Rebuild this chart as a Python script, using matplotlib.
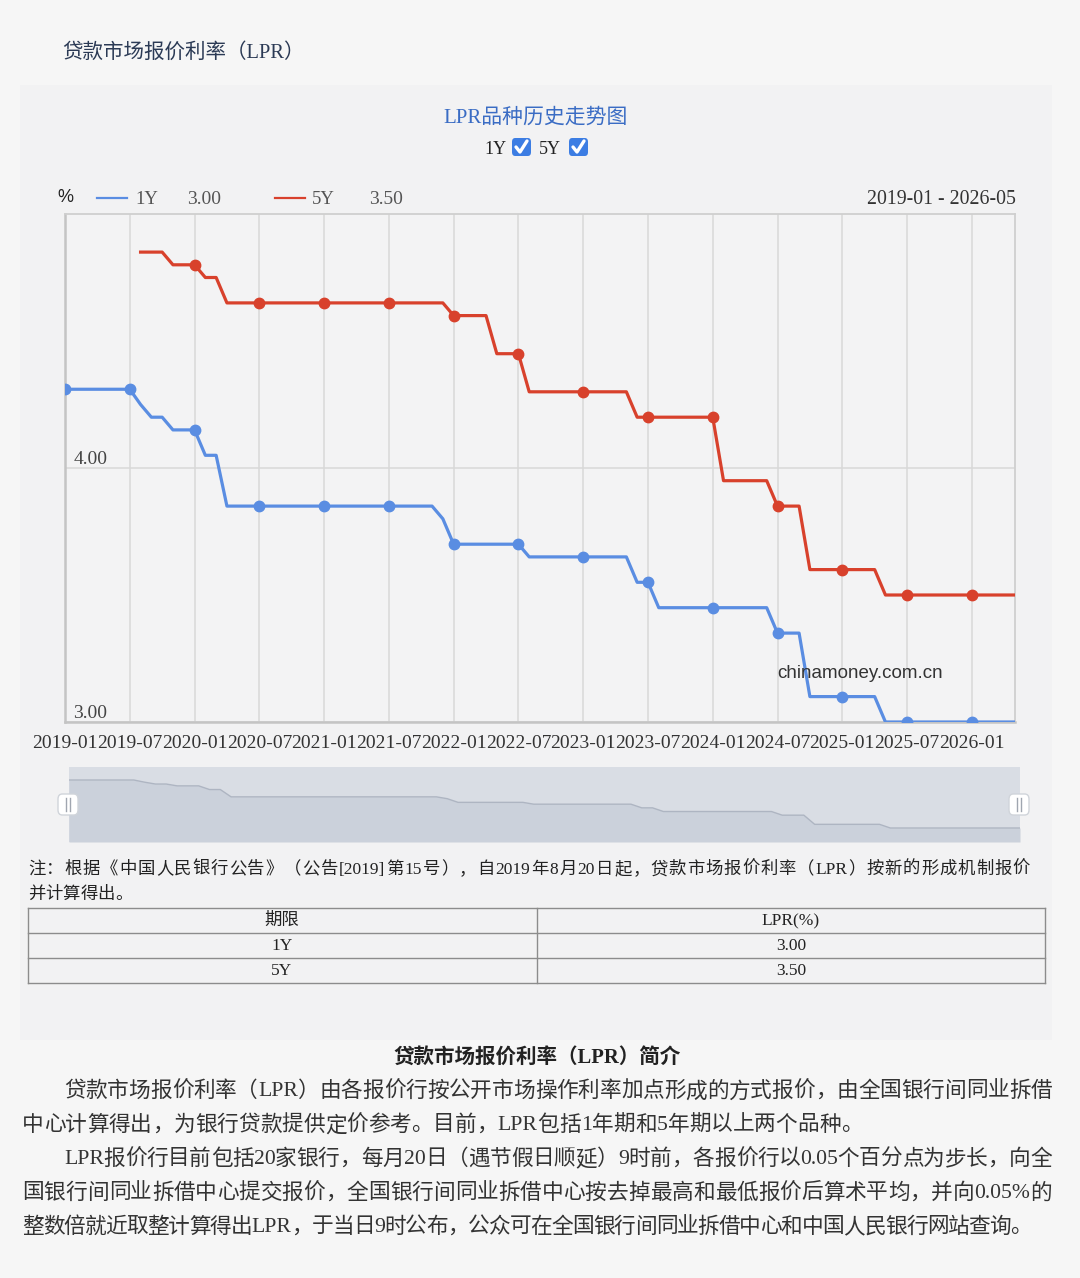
import re
import numpy as np
import matplotlib
matplotlib.use("Agg")
import matplotlib.pyplot as plt
from matplotlib.patches import Rectangle, FancyBboxPatch
from matplotlib.lines import Line2D

# ---------------- data ----------------
months = [f"{y}-{m:02d}" for y in range(2019, 2027) for m in range(1, 13)][:89]  # 2019-01 .. 2026-05

lpr_1y = [4.31, 4.31, 4.31, 4.31, 4.31, 4.31, 4.31,            # 2019-01..07
          4.25, 4.20, 4.20, 4.15, 4.15,                        # 2019-08..12
          4.15, 4.05, 4.05, 3.85, 3.85, 3.85, 3.85, 3.85, 3.85, 3.85, 3.85, 3.85,   # 2020
          3.85, 3.85, 3.85, 3.85, 3.85, 3.85, 3.85, 3.85, 3.85, 3.85, 3.85, 3.80,   # 2021
          3.70, 3.70, 3.70, 3.70, 3.70, 3.70, 3.70, 3.65, 3.65, 3.65, 3.65, 3.65,   # 2022
          3.65, 3.65, 3.65, 3.65, 3.65, 3.55, 3.55, 3.45, 3.45, 3.45, 3.45, 3.45,   # 2023
          3.45, 3.45, 3.45, 3.45, 3.45, 3.45, 3.35, 3.35, 3.35, 3.10, 3.10, 3.10,   # 2024
          3.10, 3.10, 3.10, 3.10, 3.00, 3.00, 3.00, 3.00, 3.00, 3.00, 3.00, 3.00,   # 2025
          3.00, 3.00, 3.00, 3.00, 3.00]                                             # 2026-01..05

lpr_5y = [None, None, None, None, None, None, None,            # 2019-01..07
          4.85, 4.85, 4.85, 4.80, 4.80,                        # 2019-08..12
          4.80, 4.75, 4.75, 4.65, 4.65, 4.65, 4.65, 4.65, 4.65, 4.65, 4.65, 4.65,   # 2020
          4.65, 4.65, 4.65, 4.65, 4.65, 4.65, 4.65, 4.65, 4.65, 4.65, 4.65, 4.65,   # 2021
          4.60, 4.60, 4.60, 4.60, 4.45, 4.45, 4.45, 4.30, 4.30, 4.30, 4.30, 4.30,   # 2022
          4.30, 4.30, 4.30, 4.30, 4.30, 4.20, 4.20, 4.20, 4.20, 4.20, 4.20, 4.20,   # 2023
          4.20, 3.95, 3.95, 3.95, 3.95, 3.95, 3.85, 3.85, 3.85, 3.60, 3.60, 3.60,   # 2024
          3.60, 3.60, 3.60, 3.60, 3.50, 3.50, 3.50, 3.50, 3.50, 3.50, 3.50, 3.50,   # 2025
          3.50, 3.50, 3.50, 3.50, 3.50]                                             # 2026-01..05

table_terms = ["1Y", "5Y"]
table_rates = ["3.00", "3.50"]
y_ticks = [3.0, 4.0]

# ---------------- figure ----------------
W, H = 1080, 1278
fig = plt.figure(figsize=(W / 100, H / 100), dpi=100)
fig.patch.set_facecolor("#f6f6f6")

SERIF = ["Liberation Serif", "Noto Sans CJK SC"]
SANS = ["Liberation Sans", "Noto Sans CJK SC"]
BLUE = "#5a8de2"
RED = "#d8412c"


def fx(x):
    return x / W


def fy(y):
    return 1 - y / H


def T(x, y, s, size, color="#222", ha="left", va="center", family=SERIF, weight="normal"):
    return fig.text(fx(x), fy(y), s, fontsize=size, color=color, ha=ha, va=va,
                    family=family, fontweight=weight)


def hline(x0, x1, y, color, lw=1.0, z=3):
    fig.add_artist(Line2D([fx(x0), fx(x1)], [fy(y), fy(y)], color=color, lw=lw,
                          transform=fig.transFigure, zorder=z))


def vline(x, y0, y1, color, lw=1.0, z=3):
    fig.add_artist(Line2D([fx(x), fx(x)], [fy(y0), fy(y1)], color=color, lw=lw,
                          transform=fig.transFigure, zorder=z))


# panel
fig.add_artist(Rectangle((fx(20), fy(1040)), (1052 - 20) / W, (1040 - 85) / H,
                         transform=fig.transFigure, facecolor="#f2f2f3", edgecolor="none", zorder=0))

# page title
T(62, 53, "贷款市场报价利率（LPR）", 14.8, color="#2b3a55")

# chart title and checkboxes
T(536, 118, "LPR品种历史走势图", 15, color="#3a6cc4", ha="center")
T(495, 149, "1Y", 13, color="#222", ha="center")
T(550, 149, "5Y", 13, color="#222", ha="center")
for cx in (512, 569):
    fig.add_artist(FancyBboxPatch((fx(cx), fy(156)), 19 / W, 18 / H,
                                  boxstyle="round,pad=0,rounding_size=0.003",
                                  transform=fig.transFigure, facecolor="#3c7de3",
                                  edgecolor="none", zorder=3))
    fig.add_artist(Line2D([fx(cx + 4), fx(cx + 8), fx(cx + 15)],
                          [fy(147), fy(152), fy(141)], color="white", lw=2.4,
                          transform=fig.transFigure, zorder=4, solid_capstyle="round"))

# legend row
T(65, 197, "%", 13, color="#222", ha="center", family=SANS)
hline(97, 127, 198, BLUE, lw=1.6)
T(135, 199, "1Y", 13.5, color="#555")
T(187, 199, "3.00", 14, color="#555")
hline(275, 305, 198, RED, lw=1.6)
T(312, 199, "5Y", 13.5, color="#555")
T(369, 199, "3.50", 14, color="#555")
T(1016, 199, "2019-01 - 2026-05", 14.3, color="#333", ha="right")

# ---------------- main chart ----------------
ax = fig.add_axes([fx(65), fy(722), 950 / W, (722 - 214) / H])
ax.set_facecolor("#f3f3f4")
x = np.arange(len(months))
y1 = np.array(lpr_1y, dtype=float)
y5 = np.array([np.nan if v is None else v for v in lpr_5y], dtype=float)
mk = list(range(0, len(months), 6))

ax.plot(x, y1, color=BLUE, lw=2.3, marker="o", markevery=mk, ms=7.5, zorder=4)
y5_mk = [i for i in mk if not np.isnan(y5[i])]
ax.plot(x, y5, color=RED, lw=2.3, marker="o", markevery=y5_mk, ms=7.5, zorder=4)

ax.set_xlim(0, len(months) - 1)
ax.set_ylim(3.0, 5.0)
ax.set_xticks(mk)
ax.set_xticklabels([months[i] for i in mk], fontsize=14, family=SERIF, color="#333")
ax.tick_params(axis="x", length=0, pad=9)
ax.set_yticks([])
ax.grid(axis="x", color="#d8d8d8", lw=1.1)
for yt in y_ticks:
    ax.axhline(yt, color="#d8d8d8", lw=1.1, zorder=1)
    ax.annotate(f"{yt:.2f}", xy=(0, yt), xytext=(6, 0), textcoords="offset points",
                ha="left", va="bottom", fontsize=14, family=SERIF, color="#444")
for side, sp in ax.spines.items():
    sp.set_color("#cfcfcf")
    sp.set_linewidth(1.3)
ax.spines["left"].set_color("#c4c4c4")
ax.spines["left"].set_linewidth(1.8)
ax.spines["bottom"].set_color("#c4c4c4")
ax.spines["bottom"].set_linewidth(1.8)
ax.set_axisbelow(True)

T(860, 674, "chinamoney.com.cn", 13.5, color="#333", ha="center", family=SANS)

# ---------------- data zoom slider ----------------
sz = fig.add_axes([fx(69), fy(842), (1020 - 69) / W, (842 - 767) / H])
sz.set_facecolor("#d9dde4")
sz.fill_between(x, 2.618, y1, color="#cbd1db", lw=0)
sz.plot(x, y1, color="#aeb5c2", lw=1.0)
sz.set_xlim(0, len(months) - 1)
sz.set_ylim(2.618, 4.665)
sz.set_xticks([])
sz.set_yticks([])
for sp in sz.spines.values():
    sp.set_visible(False)
for hx in (68, 1019):
    fig.add_artist(FancyBboxPatch((fx(hx - 10), fy(815)), 20 / W, 21 / H,
                                  boxstyle="round,pad=0,rounding_size=0.004",
                                  transform=fig.transFigure, facecolor="white",
                                  edgecolor="#d0d4da", lw=1.0, zorder=5))
    vline(hx - 2, 798, 811, "#a0a6b0", lw=1.0, z=6)
    vline(hx + 2, 798, 811, "#a0a6b0", lw=1.0, z=6)


# ---------------- text blocks ----------------
def justify(x0, x1, y, s, size, family=SERIF, color="#333", natural=False):
    r = fig.canvas.get_renderer()
    toks = re.findall(r"[A-Za-z0-9.%\[\]]+|.", s)
    ws = []
    for tk in toks:
        t = fig.text(0, 0, tk, fontsize=size, family=family)
        ws.append(t.get_window_extent(r).width)
        t.remove()
    gap = 0.0
    if not natural and len(toks) > 1:
        gap = ((x1 - x0) - sum(ws)) / (len(toks) - 1)
    cx = x0
    for tk, w in zip(toks, ws):
        T(cx, y, tk, size, color=color, family=family)
        cx += w + gap


NOTE1 = "注：根据《中国人民银行公告》（公告[2019]第15号），自2019年8月20日起，贷款市场报价利率（LPR）按新的形成机制报价"
NOTE2 = "并计算得出。"
justify(28, 1030, 870, NOTE1, 12.5, color="#222")
justify(28, 0, 895, NOTE2, 12.5, color="#222", natural=True)

# table
TC = "#8c8c8c"
for yy in (908, 933, 958, 983):
    hline(28, 1045, yy, TC, lw=1.0)
for xx in (28, 537, 1045):
    vline(xx, 908, 983, TC, lw=1.0)
T(282, 921, "期限", 12.5, color="#222", ha="center")
T(791, 921, "LPR(%)", 12.5, color="#222", ha="center")
for i, (term, rate) in enumerate(zip(table_terms, table_rates)):
    yy = 946 + 25 * i
    T(282, yy, term, 12.5, color="#222", ha="center")
    T(791, yy, rate, 12.5, color="#222", ha="center")

# intro
T(537, 1058, "贷款市场报价利率（LPR）简介", 14.8, color="#222", ha="center", weight="bold")
P = [
    (64, 1052, 1092, "贷款市场报价利率（LPR）由各报价行按公开市场操作利率加点形成的方式报价，由全国银行间同业拆借", False),
    (22, 0, 1126, "中心计算得出，为银行贷款提供定价参考。目前，LPR包括1年期和5年期以上两个品种。", True),
    (64, 1052, 1160, "LPR报价行目前包括20家银行，每月20日（遇节假日顺延）9时前，各报价行以0.05个百分点为步长，向全", False),
    (22, 1052, 1194, "国银行间同业拆借中心提交报价，全国银行间同业拆借中心按去掉最高和最低报价后算术平均，并向0.05%的", False),
    (22, 1032, 1228, "整数倍就近取整计算得出LPR，于当日9时公布，公众可在全国银行间同业拆借中心和中国人民银行网站查询。", False),
]
for x0, x1, yy, s, nat in P:
    justify(x0, x1, yy, s, 15.6, color="#333", natural=nat)

fig.savefig("out.png", dpi=100, facecolor=fig.get_facecolor())
